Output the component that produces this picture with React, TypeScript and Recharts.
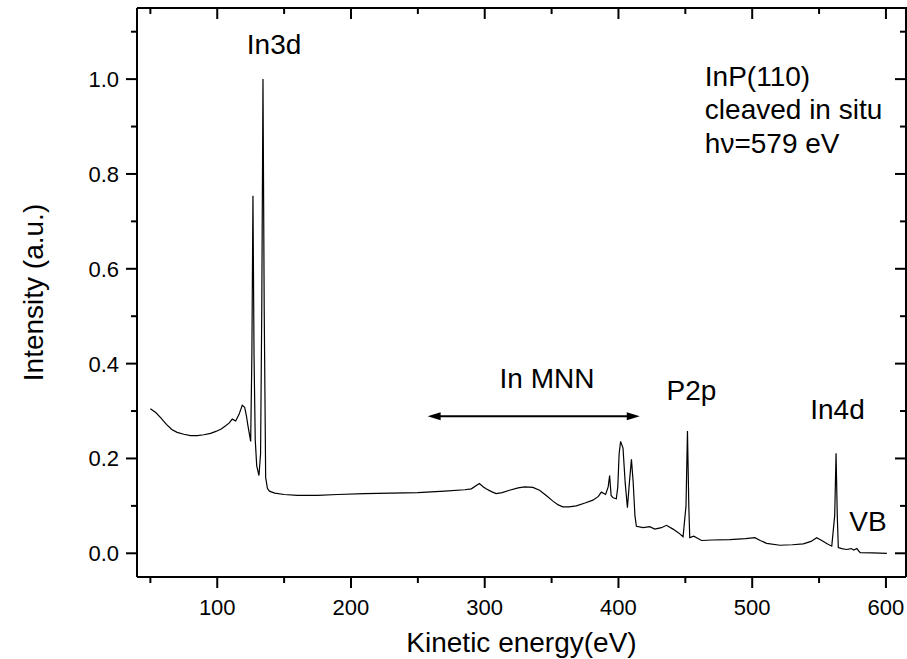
import React from 'react';
import { LineChart, Line, XAxis, YAxis, ReferenceDot, ReferenceLine, Label } from 'recharts';

// spectrum (kinetic energy in eV, intensity a.u.)
const energy = [
  50, 54, 58, 62, 66, 70, 75, 80, 85, 90, 95, 99, 103, 106.3, 109, 111.2, 113.8, 116.3, 118.7, 120.5,
  121.8, 123, 125, 125.9, 126.7, 127.5, 128.4, 129.5, 131.2, 132.4, 133.3, 134.2, 135.1, 136.2, 137.5, 139,
  143, 150, 160, 175, 190, 210, 230, 250, 270, 285, 290, 296, 299, 301, 305, 308.5, 313, 318.5, 325, 330,
  336, 341, 346, 351, 355, 358.4, 363, 368.5, 375, 380.9, 385, 387.2, 390.4, 392.3, 393.4, 394.5, 396, 398.4,
  399.5, 400.5, 401.6, 403.4, 405, 406.7, 408.2, 409.7, 411, 412.3, 413.4, 418.4, 423.4, 427.1, 432.1, 435.9,
  440.8, 445, 448.3, 450.5, 451.6, 452.6, 453.3, 456.3, 462.1, 470, 483.3, 495, 502, 506, 510.8, 520.7, 530,
  538.2, 544, 548.2, 552, 556, 559.5, 561.7, 562.7, 563.6, 564.4, 567, 570.7, 574, 576, 578.2, 580.7, 590, 600.7,
];
const intensity = [
  0.305, 0.297, 0.285, 0.272, 0.261, 0.255, 0.251, 0.248, 0.248, 0.25, 0.253, 0.257, 0.262, 0.269, 0.275, 0.283, 0.279, 0.293, 0.312, 0.308,
  0.29, 0.268, 0.236, 0.42, 0.754, 0.42, 0.24, 0.185, 0.164, 0.21, 0.52, 1.0, 0.52, 0.16, 0.137, 0.131,
  0.127, 0.124, 0.122, 0.122, 0.124, 0.126, 0.127, 0.128, 0.131, 0.134, 0.136, 0.147, 0.14, 0.136, 0.13, 0.126, 0.128, 0.133, 0.138, 0.14,
  0.139, 0.133, 0.122, 0.11, 0.102, 0.098, 0.098, 0.1, 0.106, 0.112, 0.12, 0.129, 0.124, 0.14, 0.164, 0.122, 0.117, 0.115,
  0.14, 0.21, 0.236, 0.222, 0.15, 0.096, 0.15, 0.198, 0.15, 0.08, 0.057, 0.054, 0.056, 0.051, 0.054, 0.059,
  0.051, 0.043, 0.035, 0.1, 0.258, 0.1, 0.033, 0.036, 0.027, 0.028, 0.029, 0.031, 0.033, 0.027, 0.021, 0.017, 0.018,
  0.02, 0.025, 0.033, 0.027, 0.02, 0.015, 0.08, 0.211, 0.08, 0.012, 0.01, 0.008, 0.01, 0.007, 0.01, 0.0015, 0.001, 0,
];

const xDomain = [40, 615];
const yDomain = [-0.05, 1.15];
const xTicks = [50, 100, 150, 200, 250, 300, 350, 400, 450, 500, 550, 600];
const yTicks = [0, 0.1, 0.2, 0.3, 0.4, 0.5, 0.6, 0.7, 0.8, 0.9, 1.0, 1.1];

// text annotations, anchored in data coordinates (baseline)
const peakLabels = [
  { text: 'In3d', x: 142.5, y: 1.054, anchor: 'middle' },
  { text: 'In MNN', x: 346.6, y: 0.349, anchor: 'middle' },
  { text: 'P2p', x: 454.6, y: 0.323, anchor: 'middle' },
  { text: 'In4d', x: 563.8, y: 0.284, anchor: 'middle' },
  { text: 'VB', x: 586.5, y: 0.047, anchor: 'middle' },
  { text: 'InP(110)', x: 464.6, y: 0.985, anchor: 'start' },
  { text: 'cleaved in situ', x: 464.6, y: 0.915, anchor: 'start' },
  { text: 'h\u03bd=579 eV', x: 464.6, y: 0.845, anchor: 'start' },
];
const mnnRange = [257.3, 415.9];
const mnnLevel = 0.289;

const data = energy.map((e, i) => ({ energy: e, intensity: intensity[i] }));

// chart layout
const W = 907;
const H = 659;
const MARGIN = { top: 8, right: 1, bottom: 0, left: 0 };
const Y_AXIS_W = 137;
const X_AXIS_H = 82;
const PLOT_W = W - MARGIN.left - MARGIN.right - Y_AXIS_W;
const PLOT_H = H - MARGIN.top - MARGIN.bottom - X_AXIS_H;

const FONT = '"Liberation Sans", Arial, sans-serif';
const isMajorX = (v: number) => v % 100 === 0;
const isMajorY = (v: number) => Math.round(v * 10) % 2 === 0;

// bottom tick (outward) + mirrored top tick (inward); the first one also closes the frame
const BottomTick = (props: any) => {
  const { x, y, payload, index } = props;
  const major = isMajorX(payload.value);
  const len = major ? 11 : 6;
  const top = y - PLOT_H;
  const left = MARGIN.left + Y_AXIS_W;
  return (
    <g>
      <line x1={x} y1={y} x2={x} y2={y + len} stroke="#000" strokeWidth={2} />
      <line x1={x} y1={top} x2={x} y2={top + len} stroke="#000" strokeWidth={2} />
      {index === 0 && (
        <path
          d={`M${left},${top} H${left + PLOT_W} V${y}`}
          fill="none"
          stroke="#000"
          strokeWidth={2}
        />
      )}
      {major && (
        <text x={x} y={y + 38} textAnchor="middle" fontSize={22} fill="#000" fontFamily={FONT}>
          {payload.value}
        </text>
      )}
    </g>
  );
};

// left tick (outward) + mirrored right tick (inward)
const LeftTick = (props: any) => {
  const { x, y, payload } = props;
  const major = isMajorY(payload.value);
  const len = major ? 11 : 6;
  const right = x + PLOT_W;
  return (
    <g>
      <line x1={x} y1={y} x2={x - len} y2={y} stroke="#000" strokeWidth={2} />
      <line x1={right} y1={y} x2={right - len} y2={y} stroke="#000" strokeWidth={2} />
      {major && (
        <text x={x - 18} y={y + 8} textAnchor="end" fontSize={22} fill="#000" fontFamily={FONT}>
          {payload.value.toFixed(1)}
        </text>
      )}
    </g>
  );
};

const DoubleArrow = (props: any) => {
  const { x1, y1, x2, y2 } = props;
  const l = Math.min(x1, x2);
  const r = Math.max(x1, x2);
  return (
    <g>
      <line x1={l + 6} y1={y1} x2={r - 6} y2={y2} stroke="#000" strokeWidth={2} />
      <polygon points={`${l},${y1} ${l + 13},${y1 - 4} ${l + 13},${y1 + 4}`} fill="#000" />
      <polygon points={`${r},${y2} ${r - 13},${y2 - 4} ${r - 13},${y2 + 4}`} fill="#000" />
    </g>
  );
};

const YTitle = ({ viewBox }: any) => {
  const cx = viewBox.x + 43;
  const cy = viewBox.y + viewBox.height / 2;
  return (
    <text x={cx} y={cy} transform={`rotate(-90 ${cx} ${cy})`} textAnchor="middle" fontSize={28} fill="#000" fontFamily={FONT}>
      Intensity (a.u.)
    </text>
  );
};

export default function App() {
  const axisLine = { stroke: '#000', strokeWidth: 2 };
  return (
    <div style={{ position: 'absolute', left: 0, top: 0 }}>
      <LineChart width={W} height={H} data={data} margin={MARGIN}>
        <XAxis
          dataKey="energy"
          type="number"
          domain={xDomain}
          ticks={xTicks}
          allowDataOverflow
          height={X_AXIS_H}
          interval={0}
          axisLine={axisLine}
          tickLine={false}
          tickSize={0}
          tickMargin={0}
          tick={BottomTick}
        >
          <Label value="Kinetic energy(eV)" position="insideBottom" offset={7} fontSize={28} fill="#000" fontFamily={FONT} />
        </XAxis>
        <YAxis
          type="number"
          domain={yDomain}
          ticks={yTicks}
          allowDataOverflow
          width={Y_AXIS_W}
          interval={0}
          axisLine={axisLine}
          tickLine={false}
          tickSize={0}
          tickMargin={0}
          tick={LeftTick}
        >
          <Label content={YTitle} />
        </YAxis>
        <Line dataKey="intensity" stroke="#000" strokeWidth={1.2} dot={false} isAnimationActive={false} />
        <ReferenceLine
          segment={[
            { x: mnnRange[0], y: mnnLevel },
            { x: mnnRange[1], y: mnnLevel },
          ]}
          shape={DoubleArrow}
        />
        {peakLabels.map((p) => (
          <ReferenceDot
            key={p.text}
            x={p.x}
            y={p.y}
            shape={(s: any) => (
              <text x={s.cx} y={s.cy} textAnchor={p.anchor} fontSize={28} fill="#000" fontFamily={FONT}>
                {p.text}
              </text>
            )}
          />
        ))}
      </LineChart>
    </div>
  );
}
